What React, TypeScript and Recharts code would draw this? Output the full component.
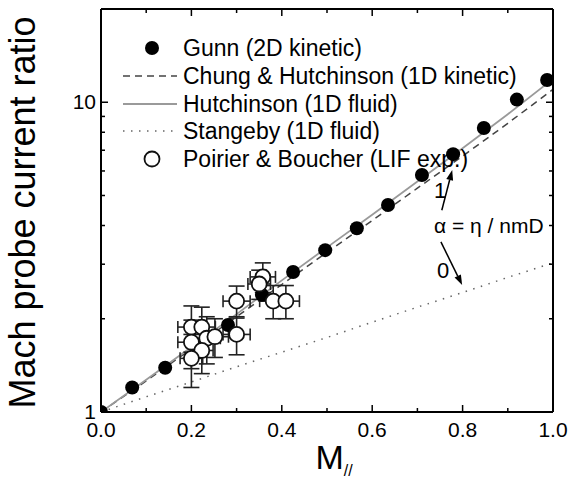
import React from 'react';
import {
  ComposedChart,
  Line,
  Scatter,
  XAxis,
  YAxis,
  ErrorBar,
  Legend,
  ReferenceDot,
  ReferenceLine,
} from 'recharts';

const FONT = "Arial, 'Liberation Sans', Helvetica, sans-serif";

// ---- data ----
const curveM = [0, 0.1, 0.2, 0.3, 0.4, 0.5, 0.6, 0.7, 0.8, 0.9, 1.0];
const hutchinsonR = [1, 1.27, 1.62, 2.07, 2.66, 3.4, 4.33, 5.55, 7.1, 9.15, 11.9];
const chungR = [1, 1.26, 1.6, 2.03, 2.58, 3.28, 4.15, 5.28, 6.7, 8.55, 11.0];
const stangebyR = [1, 1.12, 1.25, 1.4, 1.56, 1.74, 1.95, 2.18, 2.43, 2.72, 3.03];

const gunnM = [0, 0.069, 0.142, 0.212, 0.281, 0.356, 0.425, 0.496, 0.566, 0.635, 0.71, 0.779, 0.847, 0.92, 0.987];
const gunnR = [1, 1.2, 1.39, 1.65, 1.91, 2.39, 2.83, 3.33, 3.92, 4.66, 5.82, 6.8, 8.26, 10.2, 11.8];

const pbM = [0.358, 0.35, 0.3, 0.381, 0.409, 0.3, 0.2, 0.223, 0.2, 0.234, 0.252, 0.223, 0.2];
const pbR = [2.73, 2.59, 2.28, 2.28, 2.28, 1.78, 1.88, 1.88, 1.68, 1.73, 1.75, 1.58, 1.49];
const pbErrM = [0.028, 0.025, 0.03, 0.03, 0.03, 0.03, 0.03, 0.03, 0.03, 0.03, 0.03, 0.025, 0.025];
const pbErrR = [0.3, 0.28, 0.27, 0.28, 0.28, 0.25, 0.32, 0.3, 0.3, 0.3, 0.25, 0.25, 0.29];

const xTicks = [0, 0.1, 0.2, 0.3, 0.4, 0.5, 0.6, 0.7, 0.8, 0.9, 1.0];
const yTicks = [1, 2, 3, 4, 5, 6, 7, 8, 9, 10, 20];
const yLabelled = [1, 10];

const legendLabels = [
  'Gunn (2D kinetic)',
  'Chung & Hutchinson (1D kinetic)',
  'Hutchinson (1D fluid)',
  'Stangeby (1D fluid)',
  'Poirier & Boucher (LIF exp.)',
];

// ---- derived tables ----
const mk = (ys: number[]) => curveM.map((m, i) => ({ m, r: ys[i] }));
const hutchinsonData = mk(hutchinsonR);
const chungData = mk(chungR);
const stangebyData = mk(stangebyR);
const gunnData = gunnM.map((m, i) => ({ m, r: gunnR[i] }));
const pbData = pbM.map((m, i) => ({ m, r: pbR[i], em: pbErrM[i], er: pbErrR[i] }));

const isMajorX = (v: number) => Math.round(v * 10) % 2 === 0;

const BottomTick = (props: any) => {
  const { x, y, payload } = props;
  const v = payload.value as number;
  const major = isMajorX(v);
  return (
    <g>
      <line x1={x} x2={x} y1={y} y2={y - (major ? 7 : 4)} stroke="#000" strokeWidth={1.5} />
      {major && (
        <text x={x} y={y + 25} textAnchor="middle" fontSize={21} fontFamily={FONT} fill="#000">
          {v.toFixed(1)}
        </text>
      )}
    </g>
  );
};

const TopTick = (props: any) => {
  const { x, y, payload } = props;
  const major = isMajorX(payload.value);
  return <line x1={x} x2={x} y1={y} y2={y + (major ? 7 : 4)} stroke="#000" strokeWidth={1.5} />;
};

const LeftTick = (props: any) => {
  const { x, y, payload } = props;
  const v = payload.value as number;
  const major = yLabelled.includes(v);
  return (
    <g>
      <line x1={x} x2={x + (major ? 7 : 4)} y1={y} y2={y} stroke="#000" strokeWidth={1.5} />
      {major && (
        <text x={x - 5} y={y} dy={7} textAnchor="end" fontSize={21} fontFamily={FONT} fill="#000">
          {v}
        </text>
      )}
    </g>
  );
};

const RightTick = (props: any) => {
  const { x, y, payload } = props;
  const major = yLabelled.includes(payload.value);
  return <line x1={x} x2={x - (major ? 7 : 4)} y1={y} y2={y} stroke="#000" strokeWidth={1.5} />;
};

const YLabel = (props: any) => {
  const vb = props.viewBox || { x: 0, y: 0, width: 101, height: 403 };
  const cx = vb.x + 35;
  const cy = vb.y + vb.height / 2 + 2;
  return (
    <text x={cx} y={cy} transform={`rotate(-90 ${cx} ${cy})`} textAnchor="middle" fontSize={36} fontFamily={FONT} fill="#000">
      Mach probe current ratio
    </text>
  );
};

const XLabel = (props: any) => {
  const vb = props.viewBox || { x: 101, y: 412, width: 452, height: 67 };
  const cx = vb.x + vb.width / 2 + 7;
  return (
    <text x={cx} y={vb.y + 57} textAnchor="middle" fontFamily={FONT} fill="#000">
      <tspan fontSize={34}>M</tspan>
      <tspan fontSize={16} dy={7}>//</tspan>
    </text>
  );
};

const GunnDot = (p: any) => <circle cx={p.cx} cy={p.cy} r={7} fill="#000" />;
const PBDot = (p: any) => <circle cx={p.cx} cy={p.cy} r={7.5} fill="#fff" stroke="#111" strokeWidth={1.8} />;

const Arrow = (p: any) => {
  const { x1, y1, x2, y2 } = p;
  if ([x1, y1, x2, y2].some((v) => typeof v !== 'number' || isNaN(v))) return null;
  const dx = x2 - x1;
  const dy = y2 - y1;
  const len = Math.sqrt(dx * dx + dy * dy) || 1;
  const ux = dx / len;
  const uy = dy / len;
  const hl = 10;
  const hw = 3.5;
  const bx = x2 - ux * hl;
  const by = y2 - uy * hl;
  return (
    <g>
      <line x1={x1} y1={y1} x2={bx} y2={by} stroke="#000" strokeWidth={1.5} />
      <polygon
        points={`${x2},${y2} ${bx - uy * hw},${by + ux * hw} ${bx + uy * hw},${by - ux * hw}`}
        fill="#000"
      />
    </g>
  );
};

const textShape = (txt: string, size: number) => (p: any) => (
  <text x={p.cx} y={p.cy} dy={size * 0.36} textAnchor="middle" fontSize={size} fontFamily={FONT} fill="#000">
    {txt}
  </text>
);

const rowY = [48, 76, 104, 131, 159];

const renderLegend = () => (
  <svg width={571} height={180} style={{ display: 'block', overflow: 'visible' }}>
    <circle cx={152} cy={rowY[0]} r={7} fill="#000" />
    <line x1={123} x2={177} y1={rowY[1]} y2={rowY[1]} stroke="#444" strokeWidth={1.5} strokeDasharray="7 5" />
    <line x1={123} x2={177} y1={rowY[2]} y2={rowY[2]} stroke="#9a9a9a" strokeWidth={1.8} />
    <line x1={123} x2={177} y1={rowY[3]} y2={rowY[3]} stroke="#666" strokeWidth={1.5} strokeDasharray="1.5 6.5" />
    <circle cx={152} cy={rowY[4]} r={7.5} fill="#fff" stroke="#111" strokeWidth={1.8} />
    {legendLabels.map((l, i) => (
      <text key={l} x={183} y={rowY[i] + 8} fontSize={23} fontFamily={FONT} fill="#000">
        {l}
      </text>
    ))}
  </svg>
);

export default function App() {
  return (
    <div style={{ position: 'absolute', left: 0, top: 0 }}>
      <ComposedChart width={571} height={479} margin={{ top: 0, right: 0, bottom: 0, left: 0 }}>
        <XAxis
          xAxisId={0}
          dataKey="m"
          type="number"
          domain={[0, 1]}
          ticks={xTicks}
          interval={0}
          height={67}
          tickSize={0}
          tickMargin={0}
          tickLine={false}
          axisLine={{ stroke: '#000', strokeWidth: 2 }}
          tick={<BottomTick />}
          allowDataOverflow
          label={<XLabel />}
        />
        <XAxis
          xAxisId="top"
          orientation="top"
          dataKey="m"
          type="number"
          domain={[0, 1]}
          ticks={xTicks}
          interval={0}
          height={9}
          tickSize={0}
          tickMargin={0}
          tickLine={false}
          axisLine={{ stroke: '#000', strokeWidth: 2 }}
          tick={<TopTick />}
          allowDataOverflow
        />
        <YAxis
          yAxisId={0}
          dataKey="r"
          type="number"
          scale="log"
          domain={[1, 20]}
          ticks={yTicks}
          interval={0}
          width={101}
          tickSize={0}
          tickMargin={0}
          tickLine={false}
          axisLine={{ stroke: '#000', strokeWidth: 2 }}
          tick={<LeftTick />}
          allowDataOverflow
          label={<YLabel />}
        />
        <YAxis
          yAxisId="right"
          orientation="right"
          dataKey="r"
          type="number"
          scale="log"
          domain={[1, 20]}
          ticks={yTicks}
          interval={0}
          width={18}
          tickSize={0}
          tickMargin={0}
          tickLine={false}
          axisLine={{ stroke: '#000', strokeWidth: 2 }}
          tick={<RightTick />}
          allowDataOverflow
        />
        <Legend
          layout="vertical"
          align="center"
          verticalAlign="middle"
          wrapperStyle={{ position: 'absolute', left: 0, top: 0, width: 571, height: 180 }}
          content={renderLegend}
        />
        <Scatter name="Gunn (2D kinetic)" data={gunnData} shape={GunnDot} isAnimationActive={false} />
        <Line
          name="Stangeby (1D fluid)"
          data={stangebyData}
          dataKey="r"
          type="linear"
          stroke="#666"
          strokeWidth={1.5}
          strokeDasharray="1.5 6.5"
          dot={false}
          activeDot={false}
          isAnimationActive={false}
        />
        <Line
          name="Chung & Hutchinson (1D kinetic)"
          data={chungData}
          dataKey="r"
          type="linear"
          stroke="#444"
          strokeWidth={1.5}
          strokeDasharray="7 5"
          dot={false}
          activeDot={false}
          isAnimationActive={false}
        />
        <Line
          name="Hutchinson (1D fluid)"
          data={hutchinsonData}
          dataKey="r"
          type="linear"
          stroke="#9a9a9a"
          strokeWidth={1.8}
          dot={false}
          activeDot={false}
          isAnimationActive={false}
        />
        <Scatter name="Poirier & Boucher (LIF exp.)" data={pbData} shape={PBDot} isAnimationActive={false}>
          <ErrorBar dataKey="er" direction="y" width={8} stroke="#222" strokeWidth={1.6} />
          <ErrorBar dataKey="em" direction="x" width={6} stroke="#222" strokeWidth={1.6} />
        </Scatter>
        <ReferenceLine segment={[{ x: 0.754, y: 4.48 }, { x: 0.777, y: 6.04 }]} shape={Arrow} />
        <ReferenceLine segment={[{ x: 0.752, y: 3.54 }, { x: 0.799, y: 2.57 }]} shape={Arrow} />
        <ReferenceDot x={0.75} y={5.2} r={0} shape={textShape('1', 22)} />
        <ReferenceDot x={0.757} y={2.87} r={0} shape={textShape('0', 22)} />
        <ReferenceDot x={0.858} y={4.01} r={0} shape={textShape('α = η / nmD', 21)} />
      </ComposedChart>
    </div>
  );
}
